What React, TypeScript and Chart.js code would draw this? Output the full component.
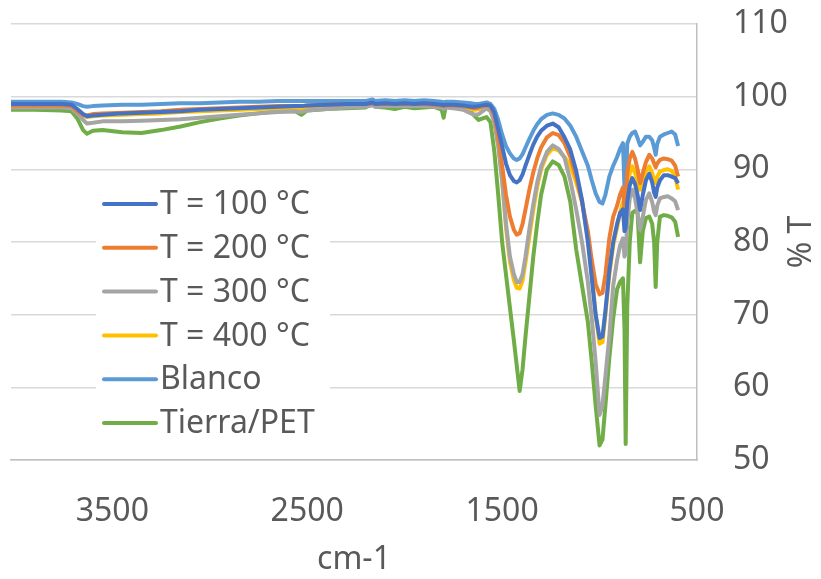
import React, { useEffect, useRef } from "react";
import { Chart, registerables } from "chart.js";

Chart.register(...registerables);

// Wavenumbers (cm-1), shared by all series
const wavenumbers = [
  4020, 3900, 3760, 3710, 3680, 3650, 3630, 3600, 3550, 3450, 3350, 3250, 3150, 3050, 2950, 2850, 2750, 2650,
  2560, 2530, 2500, 2400, 2300, 2200, 2165, 2150, 2100, 2050, 2000, 1950, 1900, 1850, 1810, 1800, 1790, 1750, 1700, 1660, 1640, 1620, 1600, 1580,
  1560, 1540, 1520, 1500, 1480, 1460, 1440, 1425, 1410, 1395, 1380, 1360, 1340, 1320, 1300, 1270, 1240, 1210, 1180, 1150, 1120, 1090, 1060, 1040, 1020, 1000, 985, 970, 950, 930,
  910, 895, 880, 872, 866, 858, 845, 832, 818, 805, 792, 778, 762, 745, 730, 720, 712, 704, 690, 670, 650, 630, 612, 597,
];

const t100 = [
  99.0, 99.0, 99.0, 98.9, 98.3, 97.6, 97.3, 97.4, 97.5, 97.7, 97.8, 97.9, 98.0, 98.2, 98.3, 98.4, 98.5, 98.6,
  98.7, 98.7, 98.8, 98.9, 99.0, 99.0, 99.2, 99.0, 99.1, 99.0, 99.1, 99.0, 99.1, 99.0, 98.9, 98.8, 98.9, 98.9, 98.8, 98.6, 98.6, 98.7, 98.8, 98.9,
  98.8, 97.8, 95.5, 93.2, 90.8, 89.2, 88.4, 88.2, 88.5, 89.3, 90.5, 92.0, 93.4, 94.5, 95.3, 96.0, 96.3, 95.8, 94.4, 92.7, 89.8, 85.8, 80.0, 75.0, 70.0, 66.8, 67.0, 70.5, 76.0, 80.0,
  82.5, 84.0, 84.5, 81.5, 82.0, 85.5, 87.8, 88.8, 88.0, 86.5, 84.4, 86.5, 88.5, 89.4, 88.2, 86.8, 86.2, 87.5, 88.5, 89.2, 89.2, 89.0, 88.8, 88.1,
];

const t200 = [
  98.8, 98.8, 98.8, 98.7, 98.0, 97.5, 97.4, 97.6, 97.7, 97.8, 97.9, 98.0, 98.2, 98.3, 98.4, 98.5, 98.6, 98.7,
  98.7, 98.7, 98.8, 98.9, 99.0, 99.0, 99.1, 99.0, 99.0, 99.0, 99.0, 99.0, 99.0, 98.9, 98.8, 98.7, 98.8, 98.8, 98.7, 98.5, 98.4, 98.5, 98.7, 98.8,
  98.6, 97.5, 94.5, 90.5, 86.5, 83.5, 81.7, 81.0, 81.2, 82.5, 84.5, 87.2, 89.6, 91.5, 93.0, 94.4, 95.0, 94.7, 93.6, 91.7, 89.0, 85.5, 81.5, 77.5, 74.2, 72.8, 73.0, 75.5, 80.5, 83.5,
  85.0, 86.5, 87.5, 84.5, 85.0, 89.5, 91.5, 92.4, 91.5, 90.0, 88.1, 89.5, 91.0, 92.0, 91.5, 90.8, 90.3, 90.8, 91.3, 91.5, 91.4, 91.2, 90.5, 89.0,
];

const t300 = [
  98.5, 98.5, 98.5, 98.4, 97.7, 96.8, 96.3, 96.4, 96.6, 96.6, 96.7, 96.8, 96.9, 97.1, 97.3, 97.5, 97.7, 97.9,
  98.0, 97.9, 98.1, 98.3, 98.5, 98.6, 98.8, 98.6, 98.7, 98.7, 98.7, 98.7, 98.7, 98.6, 98.5, 98.3, 98.5, 98.4, 98.2, 97.7, 97.5, 97.6, 98.0, 98.4,
  98.0, 96.5, 93.2, 88.5, 82.5, 78.0, 75.6, 74.5, 74.5, 75.6, 78.0, 81.8, 85.2, 88.2, 90.4, 92.4, 93.3, 92.8, 91.6, 88.5, 84.5, 80.0, 74.5, 69.5, 63.5, 56.2, 57.5, 61.5, 67.0, 74.0,
  77.5, 79.5, 80.5, 78.0, 78.5, 82.5, 86.0, 87.2, 86.0, 84.0, 81.7, 83.5, 85.8, 86.7, 85.5, 84.2, 83.7, 85.0, 86.0, 86.2, 86.3, 86.0, 85.6, 84.4,
];

const t400 = [
  98.6, 98.6, 98.6, 98.5, 97.9, 97.4, 97.2, 97.3, 97.4, 97.5, 97.6, 97.7, 97.9, 98.0, 98.1, 98.2, 98.3, 98.4,
  98.5, 98.4, 98.5, 98.6, 98.7, 98.8, 99.0, 98.8, 98.9, 98.8, 98.9, 98.8, 98.9, 98.8, 98.7, 98.5, 98.7, 98.7, 98.5, 98.3, 98.2, 98.3, 98.5, 98.7,
  98.3, 96.8, 93.5, 88.5, 82.0, 77.3, 74.8, 73.7, 73.6, 74.7, 77.2, 80.8, 84.4, 87.6, 90.0, 92.0, 92.9, 92.6, 91.7, 90.5, 88.2, 85.5, 80.5, 76.0, 70.0, 66.0, 66.2, 70.0, 75.5, 79.5,
  82.0, 84.0, 85.5, 82.5, 83.0, 87.0, 89.5, 90.4, 89.5, 88.5, 87.2, 88.5, 89.8, 90.4, 89.5, 88.5, 88.1, 89.0, 89.7, 89.9, 90.0, 89.8, 89.0, 87.2,
];

const blanco = [
  99.3, 99.3, 99.3, 99.2, 99.0, 98.7, 98.6, 98.7, 98.8, 98.9, 98.9, 99.0, 99.1, 99.1, 99.2, 99.3, 99.3, 99.4,
  99.4, 99.4, 99.4, 99.4, 99.4, 99.4, 99.6, 99.4, 99.5, 99.4, 99.5, 99.4, 99.5, 99.4, 99.3, 99.2, 99.3, 99.3, 99.2, 99.1, 99.0, 99.0, 99.1, 99.2,
  99.0, 98.3, 96.8, 94.8, 93.2, 92.2, 91.5, 91.3, 91.5, 92.1, 93.0, 94.2, 95.3, 96.2, 96.9, 97.5, 97.7, 97.5, 97.0, 96.0, 94.5, 92.5, 90.5, 88.5, 86.7, 85.5, 85.3, 86.5, 89.0, 90.5,
  91.7, 92.8, 93.6, 87.5, 86.5, 93.5, 94.5, 95.0, 95.2, 94.3, 93.3, 93.8, 94.5, 94.5, 94.0, 93.0, 92.0, 93.5, 94.5, 94.8, 95.0, 95.2, 94.8, 93.2,
];

const tierraPet = [
  98.2, 98.2, 98.1, 98.0, 97.0, 95.4, 94.9, 95.3, 95.4, 95.1, 95.0, 95.4, 95.9, 96.5, 97.0, 97.4, 97.7, 98.0,
  98.0, 97.5, 98.1, 98.3, 98.4, 98.5, 99.3, 98.6, 98.5, 98.3, 98.6, 98.4, 98.5, 98.6, 98.2, 97.1, 98.6, 98.8, 98.4, 97.9, 97.3, 96.8, 97.0, 97.2,
  96.5, 92.5, 86.5, 80.0, 75.5, 71.0, 66.5, 63.0, 59.5, 62.5, 67.0, 72.5, 78.0, 82.5, 86.5, 90.0, 91.1, 90.6, 89.0, 85.5, 79.0, 74.0, 69.0, 63.5, 57.5, 52.0, 52.8, 57.5, 64.0, 69.5,
  73.5, 74.5, 75.0, 68.0, 52.2, 71.0, 80.0, 84.0, 84.3, 84.0, 77.2, 81.5, 83.3, 83.5, 82.5, 80.0, 73.8, 80.0, 83.5, 83.7, 83.6, 83.4, 82.8, 80.7,
];

const seriesNames = ["T = 100 °C", "T = 200 °C", "T = 300 °C", "T = 400 °C", "Blanco", "Tierra/PET"];
const seriesColors = ["#4472C4", "#ED7D31", "#A5A5A5", "#FFC000", "#5B9BD5", "#70AD47"];
const xTickValues = [500, 1500, 2500, 3500];
const yTickValues = [50, 60, 70, 80, 90, 100, 110];
const xTitle = "cm-1";
const yTitle = "% T";

const FONT = "'Noto Sans', 'Liberation Sans', sans-serif";
const TEXT_COLOR = "#595959";

export default function App() {
  const ref = useRef<HTMLCanvasElement>(null);

  useEffect(() => {
    const seriesValues = [t100, t200, t300, t400, blanco, tierraPet];

    const overlay = {
      id: "overlay",
      afterDraw(chart: any) {
        const ctx = chart.ctx;
        const area = chart.chartArea;
        ctx.save();
        // legend box
        ctx.fillStyle = "#ffffff";
        ctx.fillRect(96, 182, 234, 264);
        ctx.font = `32px ${FONT}`;
        ctx.textBaseline = "middle";
        ctx.textAlign = "left";
        seriesNames.forEach((name, i) => {
          const y = 204 + i * 43.8;
          ctx.strokeStyle = seriesColors[i];
          ctx.lineWidth = 4;
          ctx.lineCap = "round";
          ctx.beginPath();
          ctx.moveTo(104, y);
          ctx.lineTo(156, y);
          ctx.stroke();
          ctx.fillStyle = TEXT_COLOR;
          ctx.fillText(name, 160, y + 1);
        });
        // x title
        ctx.textAlign = "center";
        ctx.fillText(xTitle, (area.left + area.right) / 2, 560);
        // y title
        ctx.translate(802, (area.top + area.bottom) / 2);
        ctx.rotate(-Math.PI / 2);
        ctx.fillText(yTitle, 0, 0);
        ctx.restore();
      },
    };

    const chart = new Chart(ref.current!, {
      type: "line",
      data: {
        datasets: seriesValues.map((vals, i) => ({
          label: seriesNames[i],
          data: wavenumbers.map((x, j) => ({ x, y: vals[j] })),
          borderColor: seriesColors[i],
          backgroundColor: seriesColors[i],
          borderWidth: 4,
          pointRadius: 0,
          tension: 0,
          fill: false,
          borderJoinStyle: "round" as const,
        })),
      },
      options: {
        animation: false,
        responsive: false,
        maintainAspectRatio: false,
        layout: { padding: { left: 11, top: 24, right: 0, bottom: 0 } },
        plugins: { legend: { display: false }, tooltip: { enabled: false } },
        scales: {
          x: {
            type: "linear",
            reverse: true,
            min: 500,
            max: 4020,
            afterBuildTicks: (s: any) => {
              s.ticks = xTickValues.map((v) => ({ value: v }));
            },
            afterFit: (s: any) => {
              s.height = 119;
            },
            grid: { display: false, drawTicks: false },
            border: { display: true, color: "#bfbfbf", width: 1.5 },
            ticks: {
              padding: 33,
              color: TEXT_COLOR,
              font: { family: FONT, size: 32 },
              maxRotation: 0,
              autoSkip: false,
              callback: (v: any) => String(v),
            },
          },
          y: {
            type: "linear",
            position: "right",
            min: 50,
            max: 110,
            afterBuildTicks: (s: any) => {
              s.ticks = yTickValues.map((v) => ({ value: v }));
            },
            afterFit: (s: any) => {
              s.width = 124;
            },
            grid: {
              color: "#d9d9d9",
              lineWidth: 1.5,
              drawTicks: true,
              tickLength: 36,
              tickColor: "rgba(0,0,0,0)",
            },
            border: { display: true, color: "#bfbfbf", width: 1.5 },
            ticks: {
              padding: 0,
              color: TEXT_COLOR,
              font: { family: FONT, size: 32 },
              callback: (v: any) => String(v),
            },
          },
        },
      },
      plugins: [overlay],
    });
    return () => chart.destroy();
  }, []);

  return (
    <div style={{ position: "fixed", left: 0, top: 0, width: 821, height: 579, background: "#ffffff" }}>
      <canvas ref={ref} width={821} height={579} style={{ width: 821, height: 579, display: "block" }} />
    </div>
  );
}
